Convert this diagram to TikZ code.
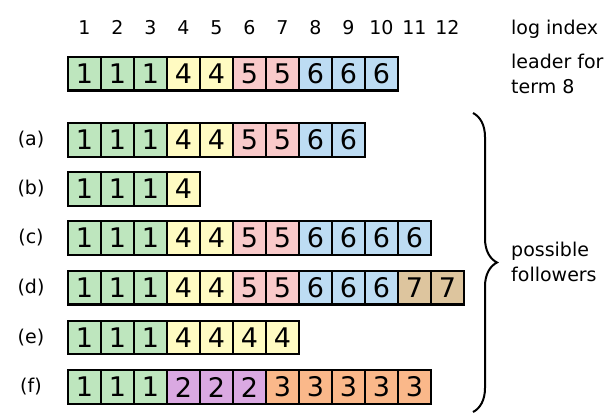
\documentclass[tikz,border=0pt]{standalone}
\usepackage{fontspec}
\setmainfont{DejaVu Sans}
\usetikzlibrary{decorations.pathreplacing}
\definecolor{t1}{HTML}{BEE6BE}
\definecolor{t2}{HTML}{DAA9E2}
\definecolor{t3}{HTML}{FAB88A}
\definecolor{t4}{HTML}{FFFBC2}
\definecolor{t5}{HTML}{F9CACA}
\definecolor{t6}{HTML}{BDDCF3}
\definecolor{t7}{HTML}{DDC59E}
\begin{document}
\begin{tikzpicture}[x=1pt,y=-1pt,
  cell/.style={draw,line width=2.2pt,minimum width=33pt,minimum height=33.5pt,inner sep=0pt,font=\fontsize{27}{27}\selectfont},
  lab/.style={inner sep=0pt,font=\fontsize{19}{25}\selectfont}]
\useasboundingbox (0,0) rectangle (614,416);
\foreach \i in {1,...,12} \node[lab] (idx-\i) at (51.5+33*\i,27.5) {\i};
\node[lab,anchor=base west] (logidx) at (511,34.4) {log index};
\node[lab,anchor=north west,align=left] (leader) at (511,53.6) {leader for\\term 8};
\foreach \t [count=\i] in {1,1,1,4,4,5,5,6,6,6}
  \node[cell,fill=t\t] (L-\i) at (51.5+33*\i,73.7) {\t};
\foreach \r/\y/\l in {a/140/{1,1,1,4,4,5,5,6,6},b/189/{1,1,1,4},c/238/{1,1,1,4,4,5,5,6,6,6,6},d/287.7/{1,1,1,4,4,5,5,6,6,6,7,7},e/337.5/{1,1,1,4,4,4,4},f/387/{1,1,1,2,2,2,3,3,3,3,3}}{
  \node[lab] (\r) at (31,\y) {(\r)};
  \foreach \t [count=\i] in \l
    \node[cell,fill=t\t] (\r-\i) at (51.5+33*\i,\y) {\t};
}
\draw[line width=2pt,decorate,decoration={brace,amplitude=24pt}] (473,113) coordinate (btop) -- (473,412) coordinate (bbot);
\node[lab,anchor=north west,align=left] (fol) at (511,241.6) {possible\\followers};
\end{tikzpicture}
\end{document}
